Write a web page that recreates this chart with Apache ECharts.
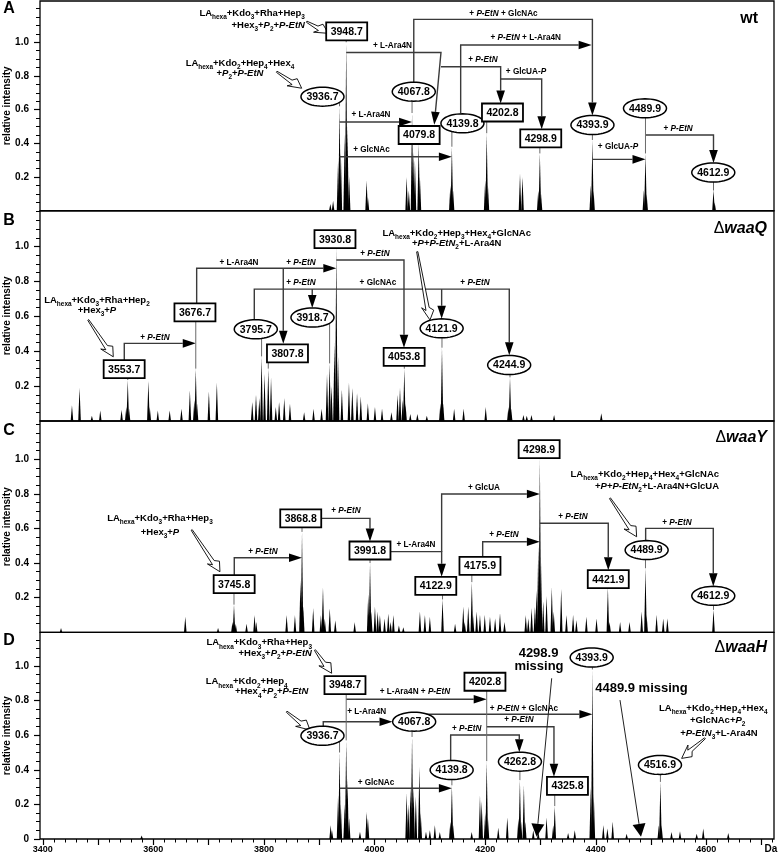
<!DOCTYPE html>
<html>
<head>
<meta charset="utf-8">
<title>MALDI spectra</title>
<script src="https://cdn.jsdelivr.net/npm/echarts@6.0.0/dist/echarts.min.js"></script>
<style>
html,body{margin:0;padding:0;background:#fff;}
#chart{width:778px;height:857px;}
</style>
</head>
<body>
<div id="chart"></div>
<script>
// ===================== DATA =====================
const xTickLabels = [3400, 3600, 3800, 4000, 4200, 4400, 4600];
const yTickLabels = [0.2, 0.4, 0.6, 0.8, 1.0];
const yTickLabelsBottom = [0, 0.2, 0.4, 0.6, 0.8, 1.0];
const panelLetters = ['A', 'B', 'C', 'D'];
const strainTitles = [['', 'wt', false], ['Δ', 'waaQ', true], ['Δ', 'waaY', true], ['Δ', 'waaH', true]];
const yAxisTitle = 'relative intensity';
const xUnit = 'Da';

// peaks: [m/z (Da), relative intensity]
const peaksA = [
  [3920, 0.04], [3925, 0.06], [3934, 0.3], [3936.7, 0.62], [3939, 0.35], [3946, 0.45], [3948.7, 1.0], [3951, 0.5], [3954, 0.2],
  [3985.6, 0.18], [3988, 0.08],
  [4058, 0.2], [4062, 0.12], [4067.8, 0.58], [4070, 0.35], [4073, 0.3], [4079.8, 0.4], [4082, 0.2],
  [4137, 0.15], [4139.8, 0.38], [4142, 0.12],
  [4200, 0.18], [4202.8, 0.46], [4205, 0.15],
  [4263, 0.22], [4267.5, 0.2],
  [4296, 0.12], [4298.9, 0.34], [4301, 0.1],
  [4391, 0.15], [4393.9, 0.42], [4396, 0.12],
  [4487, 0.12], [4489.9, 0.34], [4492, 0.1],
  [4612.9, 0.12], [4615, 0.05]
];
const peaksB = [
  [3452.8, 0.09], [3466.5, 0.19], [3488.8, 0.03], [3504, 0.06], [3542.5, 0.065],
  [3551, 0.08], [3553.7, 0.235], [3556, 0.07],
  [3591, 0.23], [3593.5, 0.08], [3608, 0.06], [3629.5, 0.06], [3650.8, 0.07], [3666, 0.175],
  [3674, 0.12], [3676.7, 0.3], [3679, 0.1], [3700.4, 0.17], [3714.8, 0.22],
  [3778.8, 0.11], [3785.6, 0.15], [3791.6, 0.13], [3795.7, 0.37], [3801, 0.27], [3807.8, 0.3], [3812.8, 0.25],
  [3821.4, 0.08], [3827.4, 0.11], [3836.7, 0.13], [3847, 0.1],
  [3872.6, 0.05], [3889.6, 0.07], [3904.2, 0.07],
  [3914, 0.27], [3918.7, 0.33], [3922, 0.2], [3927.5, 0.45], [3930.8, 1.0], [3934, 0.37], [3940.9, 0.18],
  [3953.7, 0.22], [3959.8, 0.19], [3968.3, 0.16], [3975.1, 0.14], [3987.9, 0.1], [4000.7, 0.08], [4013.5, 0.07], [4030.5, 0.05],
  [4041.6, 0.15], [4046, 0.19], [4051, 0.12], [4053.8, 0.3], [4056, 0.1], [4064.6, 0.04], [4077.4, 0.04], [4094.5, 0.03],
  [4119, 0.1], [4121.9, 0.42], [4124, 0.1], [4143.9, 0.07], [4161, 0.07], [4201, 0.08],
  [4242, 0.08], [4244.9, 0.25], [4247, 0.07], [4269.2, 0.035], [4275.2, 0.03], [4283.7, 0.035], [4324.6, 0.035], [4410, 0.045]
];
const peaksC = [
  [3433, 0.025], [3657.7, 0.09], [3717, 0.025],
  [3743, 0.06], [3745.8, 0.16], [3749, 0.05], [3768.5, 0.05], [3783, 0.1], [3786, 0.06],
  [3841, 0.1], [3856, 0.1], [3866, 0.3], [3868.8, 0.58], [3871, 0.15], [3889, 0.14],
  [3903, 0.1], [3906.7, 0.26], [3910, 0.08], [3919, 0.14], [3929, 0.07], [3964, 0.06],
  [3988.5, 0.22], [3991.8, 0.4], [3994, 0.12], [4000.7, 0.15], [4005.6, 0.12], [4009.7, 0.1], [4018, 0.08],
  [4024.8, 0.11], [4029, 0.06], [4034, 0.1], [4044, 0.04], [4052, 0.03],
  [4082, 0.12], [4091, 0.1], [4100, 0.09], [4122.9, 0.19], [4145.6, 0.05],
  [4160.4, 0.15], [4163, 0.06], [4169.4, 0.15], [4175.9, 0.29], [4178, 0.1], [4184.6, 0.12], [4190.6, 0.1],
  [4199.3, 0.1], [4208.7, 0.09], [4218, 0.08], [4226.8, 0.11], [4235, 0.06],
  [4273.4, 0.1], [4278, 0.08], [4284, 0.14], [4290, 0.15], [4293, 0.24], [4296, 0.5], [4298.9, 1.0], [4301, 0.4],
  [4305, 0.18], [4311, 0.21], [4320.5, 0.26], [4324, 0.12], [4337.5, 0.25], [4347, 0.1], [4359, 0.1], [4365, 0.07],
  [4383, 0.09], [4401.4, 0.08], [4421.9, 0.26], [4425, 0.06], [4444, 0.06], [4461, 0.06],
  [4483, 0.12], [4489.9, 0.37], [4492, 0.1], [4510, 0.1], [4522, 0.08], [4529.5, 0.08], [4612.9, 0.13]
];
const peaksD = [
  [3578.8, 0.02],
  [3920.6, 0.08], [3923, 0.05], [3934, 0.25], [3936.7, 0.5], [3939, 0.2], [3946, 0.2], [3948.7, 0.57], [3951, 0.35], [3954, 0.12],
  [3973.6, 0.042], [3985.7, 0.158], [3988, 0.12],
  [4058, 0.264], [4061, 0.2], [4065, 0.3], [4067.8, 0.59], [4070.5, 0.3], [4074.6, 0.245], [4081, 0.418], [4083.5, 0.15],
  [4093, 0.042], [4100, 0.05], [4109, 0.08], [4118, 0.04],
  [4137, 0.1], [4139.8, 0.31], [4142, 0.08],
  [4175.6, 0.04], [4190.6, 0.25], [4193.7, 0.22], [4200, 0.15], [4202.8, 0.45], [4205, 0.12],
  [4223.7, 0.065], [4240, 0.125],
  [4260, 0.12], [4262.8, 0.34], [4265, 0.1], [4270, 0.31], [4272.5, 0.1],
  [4287, 0.05], [4296, 0.045], [4311, 0.125],
  [4323, 0.08], [4325.8, 0.19], [4350, 0.035], [4362, 0.05],
  [4391, 0.3], [4393.9, 0.98], [4396.5, 0.25],
  [4413.7, 0.08], [4421, 0.06], [4430.6, 0.1], [4455.8, 0.03],
  [4514, 0.08], [4516.9, 0.33], [4519, 0.08],
  [4537, 0.04], [4552.3, 0.045], [4582.5, 0.03], [4594.4, 0.06], [4639.6, 0.035]
];

// annotated masses
const labelMassA = [3948.7, 3936.7, 4067.8, 4079.8, 4139.8, 4202.8, 4298.9, 4393.9, 4489.9, 4612.9];
const labelMassB = [3553.7, 3676.7, 3795.7, 3918.7, 3807.8, 3930.8, 4053.8, 4121.9, 4244.9];
const labelMassC = [3745.8, 3868.8, 3991.8, 4122.9, 4175.9, 4298.9, 4421.9, 4489.9, 4612.9];
const labelMassD = [3948.7, 3936.7, 4067.8, 4202.8, 4139.8, 4262.8, 4325.8, 4393.9, 4516.9];

// ===================== LAYOUT / ANNOTATIONS =====================
const FONT = '"Liberation Sans", Arial, Helvetica, sans-serif';
const X_MIN = 3395, X_MAX = 4722.3;
const PLOT_LEFT = 40, PLOT_WIDTH = 734;
const GRIDS = [
  { top: 1, height: 209.75, yMax: 1.2448 },
  { top: 210.75, height: 210.25, yMax: 1.2049 },
  { top: 421, height: 211.4, yMax: 1.2198 },
  { top: 632.4, height: 206.6, yMax: 1.1942 }
];
const BOX_W = 41, BOX_H = 18, ELL_RX = 21.5, ELL_RY = 9.5;

const layout = [
  { // A
    peaks: peaksA, masses: labelMassA,
    shapes: ['box', 'ell', 'ell', 'box', 'ell', 'box', 'box', 'ell', 'ell', 'ell'],
    pos: [[3949.6, 1.065], [3905.8, 0.677], [4070.9, 0.7065], [4080.6, 0.4496], [4158.9, 0.519], [4231.3, 0.583], [4300.5, 0.43], [4394, 0.509], [4489, 0.608], [4612.5, 0.227]],
    links: [
      { p: [[3948.7, 0.939], [4120.1, 0.939], [4107.9, 0.51]] },
      { p: [[3936.7, 0.5267], [4067.8, 0.5267]] },
      { p: [[3936.7, 0.3208], [4139.8, 0.3208]] },
      { p: [[4070.9, 0.76], [4070.9, 1.136], [4393.9, 1.136], [4393.9, 0.566]] },
      { p: [[4155.7, 0.578], [4155.7, 0.984], [4392.5, 0.984]] },
      { p: [[4120.1, 0.855], [4228, 0.855], [4228, 0.637]] },
      { p: [[4228, 0.782], [4302.2, 0.782], [4302.2, 0.484]] },
      { p: [[4393.9, 0.305], [4489.9, 0.305]] },
      { p: [[4489.9, 0.4496], [4612.9, 0.4496], [4612.9, 0.284]] }
    ],
    hollow: [[[3877.2, 1.122], [3916.3, 1.053]], [[3823, 0.825], [3868.2, 0.727]]],
    texts: [
      [4032.4, 0.978, '+ L-Ara4N', 'center', 'c'],
      [3993.5, 0.568, '+ L-Ara4N', 'center', 'c'],
      [3994.4, 0.3605, '+ GlcNAc', 'center', 'c'],
      [4233.1, 1.172, '+ *P-EtN* + GlcNAc', 'center', 'c'],
      [4273.4, 1.029, '+ *P-EtN* + L-Ara4N', 'center', 'c'],
      [4196, 0.899, '+ *P-EtN*', 'center', 'c'],
      [4273.8, 0.823, '+ GlcUA-*P*', 'center', 'c'],
      [4440.2, 0.38, '+ GlcUA-*P*', 'center', 'c'],
      [4548.9, 0.489, '+ *P-EtN*', 'center', 'c'],
      [3874.1, 1.171, 'LA_{hexa}+Kdo_{3}+Rha+Hep_{3}', 'right', 'm'],
      [3874.1, 1.102, '+Hex_{3}+*P*_{2}+*P-EtN*', 'right', 'm'],
      [3756.6, 0.877, 'LA_{hexa}+Kdo_{2}+Hep_{4}+Hex_{4}', 'center', 'm'],
      [3756.6, 0.8175, '+*P*_{2}+*P-EtN*', 'center', 'm']
    ]
  },
  { // B
    peaks: peaksB, masses: labelMassB,
    shapes: ['box', 'box', 'ell', 'ell', 'box', 'box', 'box', 'ell', 'ell'],
    pos: [[3547.2, 0.297], [3675.2, 0.622], [3785.2, 0.526], [3887.7, 0.593], [3842.5, 0.388], [3928.4, 1.042], [4053.5, 0.368], [4121.3, 0.531], [4243.4, 0.321]],
    links: [
      { p: [[3547.4, 0.349], [3547.4, 0.445], [3676.7, 0.445]] },
      { p: [[3678.3, 0.674], [3678.3, 0.875], [3930.8, 0.875]] },
      { p: [[3834.9, 0.875], [3834.9, 0.442]] },
      { p: [[3782.5, 0.579], [3782.5, 0.756], [4243.6, 0.756], [4243.6, 0.377]] },
      { p: [[3887.3, 0.756], [3887.3, 0.648]] },
      { p: [[4121.3, 0.756], [4121.3, 0.586]] },
      { p: [[3930.8, 0.923], [4053.2, 0.923], [4053.2, 0.42]] }
    ],
    hollow: [[[3482.3, 0.579], [3527.5, 0.368]], [[4077.2, 0.970], [4100.2, 0.579]]],
    texts: [
      [3602.9, 0.477, '+ *P-EtN*', 'center', 'c'],
      [3754.8, 0.909, '+ L-Ara4N', 'center', 'c'],
      [3866.9, 0.909, '+ *P-EtN*', 'center', 'c'],
      [4006.1, 0.793, '+ GlcNAc', 'center', 'c'],
      [3866.9, 0.793, '+ *P-EtN*', 'center', 'c'],
      [4181.6, 0.79, '+ *P-EtN*', 'center', 'c'],
      [4000.7, 0.957, '+ *P-EtN*', 'center', 'c'],
      [3498, 0.693, 'LA_{hexa}+Kdo_{3}+Rha+Hep_{2}', 'center', 'm'],
      [3498, 0.636, '+Hex_{3}+*P*', 'center', 'm'],
      [4148.5, 1.076, 'LA_{hexa}+Kdo_{2}+Hep_{3}+Hex_{4}+GlcNAc', 'center', 'm'],
      [4148.5, 1.018, '+*P*+*P-EtN*_{2}+L-Ara4N', 'center', 'm']
    ]
  },
  { // C
    peaks: peaksC, masses: labelMassC,
    shapes: ['box', 'box', 'box', 'box', 'box', 'box', 'box', 'ell', 'ell'],
    pos: [[3746.1, 0.278], [3866.5, 0.658], [3991.7, 0.4726], [4110.7, 0.269], [4190.6, 0.384], [4297.6, 1.057], [4422.6, 0.307], [4492, 0.475], [4612.5, 0.211]],
    links: [
      { p: [[3746.3, 0.33], [3746.3, 0.431], [3868.8, 0.431]] },
      { p: [[3903.6, 0.658], [3991.7, 0.658], [3991.7, 0.525]] },
      { p: [[4028.6, 0.466], [4121.3, 0.466], [4121.3, 0.321]] },
      { p: [[4121.3, 0.466], [4121.3, 0.799], [4298.9, 0.799]] },
      { p: [[4195.5, 0.436], [4195.5, 0.523], [4298.9, 0.523]] },
      { p: [[4298.9, 0.63], [4422.6, 0.63], [4422.6, 0.359]] },
      { p: [[4490.2, 0.53], [4490.2, 0.6], [4612.5, 0.6], [4612.5, 0.266]] }
    ],
    hollow: [[[3669.3, 0.591], [3720.4, 0.35]], [[4425.7, 0.774], [4473.9, 0.552]]],
    texts: [
      [3798.2, 0.466, '+ *P-EtN*', 'center', 'c'],
      [3948.3, 0.7, '+ *P-EtN*', 'center', 'c'],
      [4074.9, 0.504, '+ L-Ara4N', 'center', 'c'],
      [4197.8, 0.835, '+ GlcUA', 'center', 'c'],
      [4234, 0.562, '+ *P-EtN*', 'center', 'c'],
      [4358.8, 0.668, '+ *P-EtN*', 'center', 'c'],
      [4546.8, 0.635, '+ *P-EtN*', 'center', 'c'],
      [3611.9, 0.658, 'LA_{hexa}+Kdo_{3}+Rha+Hep_{3}', 'center', 'm'],
      [3611.9, 0.576, '+Hex_{3}+*P*', 'center', 'm'],
      [4622.9, 0.914, 'LA_{hexa}+Kdo_{2}+Hep_{4}+Hex_{4}+GlcNAc', 'right', 'm'],
      [4622.9, 0.845, '+*P*+*P-EtN*_{2}+L-Ara4N+GlcUA', 'right', 'm']
    ]
  },
  { // D
    peaks: peaksD, masses: labelMassD,
    shapes: ['box', 'ell', 'ell', 'box', 'ell', 'ell', 'box', 'ell', 'ell'],
    pos: [[3946.5, 0.89], [3905.8, 0.597], [4071.6, 0.678], [4199.6, 0.909], [4139.4, 0.399], [4262.9, 0.447], [4348.8, 0.3075], [4392.6, 1.049], [4516.1, 0.428]],
    links: [
      { p: [[3907.2, 0.652], [3907.2, 0.678], [4032.4, 0.678]] },
      { p: [[3948.7, 0.8075], [4202.8, 0.8075]] },
      { p: [[3936.7, 0.293], [4139.8, 0.293]] },
      { p: [[4071.6, 0.721], [4393.9, 0.721]] },
      { p: [[4202.8, 0.649], [4324.4, 0.649], [4324.4, 0.36]] },
      { p: [[4137.6, 0.454], [4137.6, 0.601], [4261.7, 0.601], [4261.7, 0.502]] },
      { p: [[4320.3, 0.929], [4293.1, 0.013]], big: true },
      { p: [[4443.8, 0.803], [4481.8, 0.013]], big: true }
    ],
    hollow: [[[3892.2, 1.092], [3922.4, 0.958]], [[3841, 0.736], [3883.2, 0.63]], [[4597.4, 0.582], [4555.3, 0.466]]],
    texts: [
      [3985.7, 0.736, '+ L-Ara4N', 'center', 'c'],
      [4073, 0.851, '+ L-Ara4N + *P-EtN*', 'center', 'c'],
      [4002.5, 0.328, '+ GlcNAc', 'center', 'c'],
      [4270.2, 0.7555, '+ *P-EtN* + GlcNAc', 'center', 'c'],
      [4261.1, 0.688, '+ *P-EtN*', 'center', 'c'],
      [4166.5, 0.64, '+ *P-EtN*', 'center', 'c'],
      [3886.8, 1.135, 'LA_{hexa}+Kdo_{3}+Rha+Hep_{3}', 'right', 'm'],
      [3886.8, 1.073, '+Hex_{3}+*P*_{2}+*P-EtN*', 'right', 'm'],
      [3768.7, 0.909, 'LA_{hexa}+Kdo_{2}+Hep_{4}', 'center', 'm'],
      [3813.9, 0.851, '+Hex_{4}+*P*_{2}+*P-EtN*', 'center', 'm'],
      [4612.5, 0.755, 'LA_{hexa}+Kdo_{2}+Hep_{4}+Hex_{4}', 'center', 'm'],
      [4620.5, 0.688, '+GlcNAc+*P*_{2}', 'center', 'm'],
      [4622.8, 0.611, '+*P-EtN*_{3}+L-Ara4N', 'center', 'm'],
      [4296.5, 1.075, '4298.9', 'center', 'b'],
      [4297.3, 1.0, 'missing', 'center', 'b'],
      [4482.6, 0.87, '4489.9 missing', 'center', 'b']
    ]
  }
];

// ===================== HELPERS =====================
const SIZES = { c: 8.2, m: 9.5, b: 13 };
function richFor(sz) {
  return {
    n: { fontSize: sz, fontWeight: 'bold', fontFamily: FONT, color: '#000', lineHeight: sz * 1.5, verticalAlign: 'middle' },
    i: { fontSize: sz, fontWeight: 'bold', fontStyle: 'italic', fontFamily: FONT, color: '#000', lineHeight: sz * 1.5, verticalAlign: 'middle' },
    s: { fontSize: sz * 0.68, fontWeight: 'bold', fontFamily: FONT, color: '#000', lineHeight: sz * 0.75, verticalAlign: 'bottom' }
  };
}
function toRich(str) {
  let out = '', italic = false, buf = '', i = 0;
  const flush = () => { if (buf) { out += '{' + (italic ? 'i' : 'n') + '|' + buf + '}'; buf = ''; } };
  while (i < str.length) {
    const ch = str[i];
    if (ch === '*') { flush(); italic = !italic; i++; }
    else if (ch === '_' && str[i + 1] === '{') {
      flush(); const j = str.indexOf('}', i);
      out += '{s|' + str.slice(i + 2, j) + '}'; i = j + 1;
    } else { buf += ch; i++; }
  }
  flush();
  return out;
}
function peakHeight(peaks, m) {
  let best = null;
  peaks.forEach(pk => { if (Math.abs(pk[0] - m) < 0.6 && (best === null || pk[1] > best)) best = pk[1]; });
  return best;
}
function txtStyle(text, align, extra) {
  return Object.assign({ text: text, align: align, verticalAlign: 'middle', textAlign: align, textVerticalAlign: 'middle', fill: '#000' }, extra || {});
}

function spikeItem(params, api) {
  const m = api.value(0), h = api.value(1);
  const top = api.coord([m, h]);
  const bot = api.coord([m, 0]);
  const w = 1.3;
  return { type: 'polygon', shape: { points: [[top[0] - w, bot[1]], [top[0], top[1]], [top[0] + w, bot[1]]] }, style: { fill: '#000' } };
}
function linkItem(list) {
  return function (params, api) {
    const c = list[params.dataIndex];
    const pts = c.p.map(q => api.coord(q));
    const big = !!c.big;
    const L = 13, W = big ? 6.5 : 4.3;
    const n = pts.length, tip = pts[n - 1], prev = pts[n - 2];
    const dx = tip[0] - prev[0], dy = tip[1] - prev[1];
    const len = Math.hypot(dx, dy) || 1;
    const ux = dx / len, uy = dy / len;
    const base = [tip[0] - ux * L, tip[1] - uy * L];
    const linePts = pts.slice(0, n - 1).concat([base]);
    return {
      type: 'group', children: [
        { type: 'polyline', shape: { points: linePts }, style: { stroke: big ? '#222' : '#3a3a3a', lineWidth: big ? 1 : 1.4, fill: null } },
        { type: 'polygon', shape: { points: [tip, [base[0] - uy * W, base[1] + ux * W], [base[0] + uy * W, base[1] - ux * W]] }, style: { fill: '#000' } }
      ]
    };
  };
}
function hollowItem(list) {
  return function (params, api) {
    const a = list[params.dataIndex];
    const T = api.coord(a[0]), P = api.coord(a[1]);
    const dx = P[0] - T[0], dy = P[1] - T[1];
    const len = Math.hypot(dx, dy) || 1;
    const ux = dx / len, uy = dy / len, vx = -uy, vy = ux;
    const h = 11;
    const bx = P[0] - ux * h, by = P[1] - uy * h;
    const pt = (s, t) => [bx + ux * s + vx * t, by + uy * s + vy * t];
    const pts = [
      [T[0] + vx * 0.6, T[1] + vy * 0.6],
      pt(1, 2.2), pt(-2.5, 6), P, pt(2, -5.5), pt(-1.5, -1.5),
      [T[0] - vx * 0.6, T[1] - vy * 0.6]
    ];
    return { type: 'polygon', shape: { points: pts }, style: { fill: '#fff', stroke: '#000', lineWidth: 0.9 } };
  };
}
function labelItem(P) {
  return function (params, api) {
    const i = params.dataIndex;
    const m = P.masses[i], shape = P.shapes[i];
    const c = api.coord(P.pos[i]);
    const children = [];
    const ipk = peakHeight(P.peaks, m);
    if (ipk !== null) {
      const pk = api.coord([m, ipk]);
      const dx = pk[0] - c[0];
      let yb = null;
      if (shape === 'box') { if (Math.abs(dx) <= BOX_W / 2) yb = c[1] + BOX_H / 2; }
      else if (Math.abs(dx) < ELL_RX) yb = c[1] + ELL_RY * Math.sqrt(1 - (dx / ELL_RX) * (dx / ELL_RX));
      if (yb !== null && pk[1] > yb) {
        children.push({ type: 'line', shape: { x1: pk[0], y1: yb, x2: pk[0], y2: pk[1] }, style: { stroke: '#6a6a6a', lineWidth: 1 } });
      }
    }
    if (shape === 'box') {
      children.push({ type: 'rect', shape: { x: c[0] - BOX_W / 2, y: c[1] - BOX_H / 2, width: BOX_W, height: BOX_H }, style: { fill: '#fff', stroke: '#000', lineWidth: 1.8 } });
    } else {
      const pts = [];
      for (let k = 0; k < 48; k++) {
        const t = k / 48 * Math.PI * 2;
        pts.push([c[0] + ELL_RX * Math.cos(t), c[1] + ELL_RY * Math.sin(t)]);
      }
      children.push({ type: 'polygon', shape: { points: pts }, style: { fill: '#fff', stroke: '#000', lineWidth: 1.5 } });
    }
    children.push({ type: 'text', x: c[0], y: c[1] + 0.5, style: txtStyle(m.toFixed(1), 'center', { font: 'bold 10.5px ' + FONT }) });
    return { type: 'group', children: children };
  };
}
function textItem(list) {
  return function (params, api) {
    const t = list[params.dataIndex];
    const c = api.coord([t[0], t[1]]);
    const sz = SIZES[t[4]];
    return { type: 'text', x: c[0], y: c[1], style: txtStyle(toRich(t[2]), t[3], { rich: richFor(sz), font: 'bold ' + sz + 'px ' + FONT }) };
  };
}

// ===================== AXES =====================
const majorX = [], minorX = [];
for (let v = 3400; v <= 4700; v += 100) majorX.push(v);
for (let v = 3400; v <= 4720; v += 20) if (v % 100 !== 0) minorX.push(v);

const grid = [], xAxis = [], yAxis = [], series = [];
GRIDS.forEach((g, p) => {
  const last = p === 3;
  grid.push({ left: PLOT_LEFT, width: PLOT_WIDTH, top: g.top, height: g.height, show: true, borderColor: '#000', borderWidth: 1.3, backgroundColor: 'transparent', containLabel: false, outerBoundsMode: 'none' });
  const baseX = { gridIndex: p, type: 'value', min: X_MIN, max: X_MAX, axisLine: { show: false }, splitLine: { show: false } };
  // main x axis (bottom): major ticks + labels
  xAxis.push(Object.assign({}, baseX, {
    position: 'bottom',
    axisTick: { show: last, customValues: majorX, length: 6, lineStyle: { color: '#000', width: 1.2 } },
    axisLabel: { show: last, customValues: xTickLabels, margin: 6, fontSize: 9, fontWeight: 'bold', color: '#000', fontFamily: FONT, formatter: v => String(v) }
  }));
  // minor x ticks: secondary axis shifted down onto the bottom edge, ticks pointing down
  xAxis.push(Object.assign({}, baseX, {
    position: 'top', offset: -g.height,
    axisTick: { show: last, inside: true, customValues: minorX, length: 3.5, lineStyle: { color: '#000', width: 1 } },
    axisLabel: { show: false }
  }));
  const majY = last ? yTickLabelsBottom : yTickLabels;
  const minY = [];
  for (let k = 1; k <= 24; k++) { const v = Math.round(k * 5) / 100; if (k % 4 !== 0 || v > 1.01) minY.push(v); }
  const baseY = { gridIndex: p, type: 'value', min: 0, max: g.yMax, axisLine: { show: false }, splitLine: { show: false } };
  yAxis.push(Object.assign({}, baseY, {
    position: 'left',
    axisTick: { show: true, customValues: majY, length: 6, lineStyle: { color: '#000', width: 1.2 } },
    axisLabel: { show: true, customValues: majY, margin: 11, fontSize: 10, fontWeight: 'bold', color: '#000', fontFamily: FONT, formatter: v => (v === 0 ? '0' : v.toFixed(1)) }
  }));
  // minor y ticks: secondary axis shifted onto the left edge, ticks pointing left
  yAxis.push(Object.assign({}, baseY, {
    position: 'right', offset: -PLOT_WIDTH,
    axisTick: { show: true, inside: true, customValues: minY, length: 4, lineStyle: { color: '#000', width: 1 } },
    axisLabel: { show: false }
  }));

  const P = layout[p];
  const ax = { coordinateSystem: 'cartesian2d', xAxisIndex: 2 * p, yAxisIndex: 2 * p, silent: true, encode: { x: 0, y: 1 } };
  series.push(Object.assign({ type: 'custom', z: 2, clip: true, data: P.peaks, renderItem: spikeItem }, ax));
  series.push(Object.assign({ type: 'custom', z: 3, data: P.links.map(l => l.p[0]), renderItem: linkItem(P.links) }, ax));
  series.push(Object.assign({ type: 'custom', z: 4, data: P.hollow.map(h => h[0]), renderItem: hollowItem(P.hollow) }, ax));
  series.push(Object.assign({ type: 'custom', z: 5, data: P.pos, renderItem: labelItem(P) }, ax));
  series.push(Object.assign({ type: 'custom', z: 6, data: P.texts.map(t => [t[0], t[1]]), renderItem: textItem(P.texts) }, ax));
});

// panel letters, strain titles, y-axis titles, unit
const letterY = [9, 221, 431, 641];
const titleY = [19, 229, 437.5, 647.5];
const graphic = [];
panelLetters.forEach((L, p) => {
  graphic.push({ type: 'text', x: 9, y: letterY[p], style: txtStyle(L, 'center', { font: 'bold 16px ' + FONT }) });
  const t = strainTitles[p];
  const rich = {
    d: { fontSize: 16, fontFamily: FONT, color: '#000' },
    g: { fontSize: 16, fontWeight: 'bold', fontStyle: t[2] ? 'italic' : 'normal', fontFamily: FONT, color: '#000' }
  };
  const txt = (t[0] ? '{d|' + t[0] + '}' : '') + '{g|' + t[1] + '}';
  graphic.push({ type: 'text', x: p === 0 ? 758 : 767, y: titleY[p], style: txtStyle(txt, 'right', { rich: rich, font: 'bold 16px ' + FONT }) });
  const g = GRIDS[p];
  graphic.push({ type: 'text', x: 7, y: g.top + g.height / 2, rotation: Math.PI / 2, style: txtStyle(yAxisTitle, 'center', { font: 'bold 10px ' + FONT }) });
});
graphic.push({ type: 'text', x: 771, y: 849, style: txtStyle(xUnit, 'center', { font: 'bold 10px ' + FONT }) });

const chart = echarts.init(document.getElementById('chart'), null, { renderer: 'canvas' });
chart.setOption({
  animation: false,
  backgroundColor: '#fff',
  grid: grid, xAxis: xAxis, yAxis: yAxis, series: series, graphic: graphic
});
</script>
</body>
</html>
